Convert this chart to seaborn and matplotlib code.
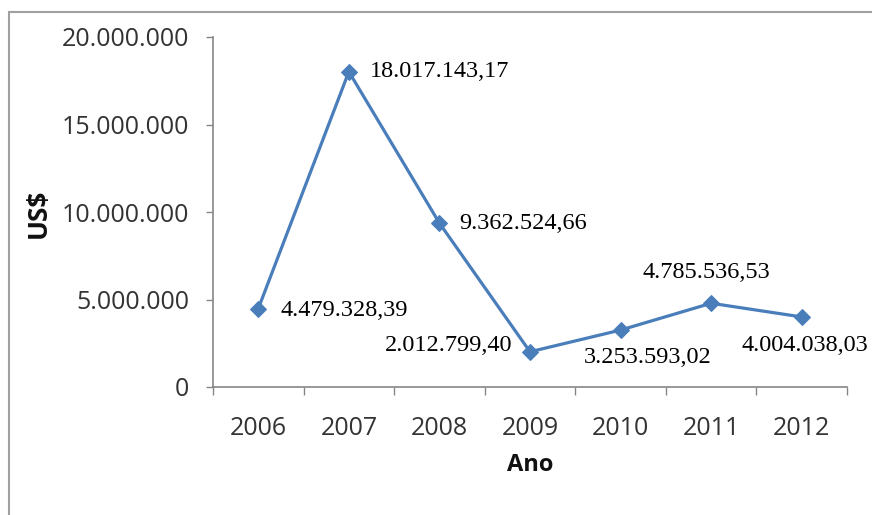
import matplotlib
matplotlib.use("Agg")
import matplotlib.pyplot as plt
import matplotlib.patches as mpatches
from matplotlib.ticker import FuncFormatter, FixedLocator
import seaborn as sns
import pandas as pd

# Valores anuais em US$
anos = ["2006", "2007", "2008", "2009", "2010", "2011", "2012"]
valores = [4479328.39, 18017143.17, 9362524.66, 2012799.40,
           3253593.02, 4785536.53, 4004038.03]
rotulos = ["4.479.328,39", "18.017.143,17", "9.362.524,66", "2.012.799,40",
           "3.253.593,02", "4.785.536,53", "4.004.038,03"]
y_ticks = [0, 5000000, 10000000, 15000000, 20000000]

df = pd.DataFrame({"pos": range(len(anos)), "valor": valores})

sns.set_theme(style="white")
plt.rcParams["font.family"] = ["Open Sans", "DejaVu Sans"]

fig = plt.figure(figsize=(8.72, 5.15), dpi=100)
fig.patch.set_facecolor("white")
ax = fig.add_axes([213 / 872, 1 - 387 / 515, 634 / 872, 350 / 515])

azul = "#4A7EBB"
sns.lineplot(data=df, x="pos", y="valor", ax=ax, color=azul, linewidth=2.3,
             marker="D", markersize=8, markeredgecolor=azul, markerfacecolor=azul)

ax.set_xlim(-0.5, len(anos) - 0.5)
ax.set_ylim(0, 20000000)

# Eixo Y
ax.yaxis.set_major_locator(FixedLocator(y_ticks))
ax.yaxis.set_major_formatter(FuncFormatter(lambda v, p: f"{int(v):,}".replace(",", ".")))
ax.tick_params(axis="y", which="major", direction="out", length=5, width=1,
               color="#868686", pad=12, labelsize=18, labelcolor="#333333", left=True)

# Eixo X: rótulos no centro, marcas nas divisões entre categorias
ax.xaxis.set_major_locator(FixedLocator(range(len(anos))))
ax.set_xticklabels(anos)
ax.xaxis.set_minor_locator(FixedLocator([i - 0.5 for i in range(len(anos) + 1)]))
ax.tick_params(axis="x", which="major", length=0, pad=21, labelsize=18,
               labelcolor="#333333", bottom=True)
ax.tick_params(axis="x", which="minor", direction="out", length=6, width=1,
               color="#868686", bottom=True)

for side in ["top", "right"]:
    ax.spines[side].set_visible(False)
for side in ["left", "bottom"]:
    ax.spines[side].set_color("#868686")
    ax.spines[side].set_linewidth(1.2)

ax.set_xlabel("Ano", fontsize=17, fontweight="bold", color="#111111")
ax.set_ylabel("US$", fontsize=19, fontweight="bold", color="#111111")
ax.xaxis.set_label_coords(0.5, -0.222)
ax.xaxis.label.set_va("center")
ax.yaxis.set_label_coords(-0.276, 0.497)
ax.yaxis.label.set_va("center")

# Rótulos de dados (deslocamentos em pixels convertidos para pontos)
offsets = [(22, -2, "left"), (21, 0, "left"), (20, 0, "left"), (-18, 6, "right"),
           (27, -27, "center"), (-5, 31, "center"), (3, -29, "center")]
for i, (txt, v, (dx, dy, ha)) in enumerate(zip(rotulos, valores, offsets)):
    ax.annotate(txt, xy=(i, v), xytext=(dx / 1.389, dy / 1.389),
                textcoords="offset points", ha=ha, va="center",
                fontsize=17.5, family=["Liberation Serif", "DejaVu Serif"],
                color="#000000", annotation_clip=False)

# Moldura externa do gráfico
moldura = mpatches.Rectangle((9 / 872, -0.2), 1.2, 1.2 - 12 / 515,
                             transform=fig.transFigure, fill=False,
                             edgecolor="#a0a0a0", linewidth=1.5)
fig.patches.append(moldura)

fig.savefig("out.png", dpi=100, facecolor="white")
